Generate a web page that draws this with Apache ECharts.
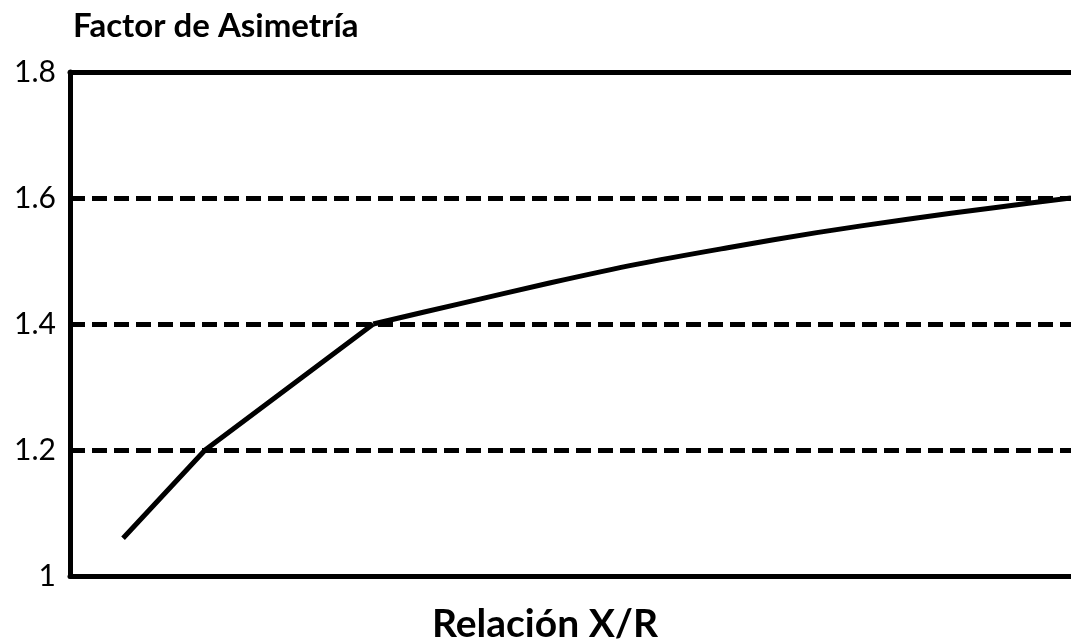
<!DOCTYPE html>
<html>
<head>
<meta charset="utf-8">
<script src="https://cdn.jsdelivr.net/npm/echarts@6/dist/echarts.min.js"></script>
<style>html,body{margin:0;padding:0;background:#fff}#c{width:1071px;height:642px}</style>
</head>
<body>
<div id="c"></div>
<script>
// Data (X/R in arbitrary relative units 0-100, no tick labels on the x axis)
var yTitle = "Factor de Asimetría";
var xTitle = "Relación X/R";
var yTicks = [1, 1.2, 1.4, 1.6, 1.8];
// straight part of the curve
var steepX = [5.3, 13.5, 30.3];
var steepY = [1.06, 1.2, 1.4];
// curved part
var curveX = [30.3, 38.9, 47.9, 56.7, 65.7, 74.6, 83.5, 92.5, 100];
var curveY = [1.4, 1.432, 1.465, 1.495, 1.521, 1.545, 1.566, 1.585, 1.6];

function pairs(xs, ys){ return xs.map(function(x,i){ return [x, ys[i]]; }); }

var chart = echarts.init(document.getElementById('c'), null, {renderer:'canvas'});
var font = 'Lato, "Open Sans", sans-serif';
chart.setOption({
  animation:false,
  backgroundColor:'#fff',
  grid:{left:70, right:0, top:72, bottom:66, containLabel:false},
  title:{text:yTitle, left:68, top:5, textStyle:{fontFamily:font, fontWeight:'bold', fontSize:33, color:'#000'}},
  graphic:[{type:'text', x:545, y:624, style:{text:xTitle, x:0, y:0, textAlign:'center', textVerticalAlign:'middle', font:'bold 39px ' + font, fill:'#000'}}],
  xAxis:[
    {type:'value', min:0, max:100, position:'bottom',
     axisLine:{show:true, lineStyle:{color:'#000', width:5}},
     axisTick:{show:false}, axisLabel:{show:false}, splitLine:{show:false}},
    {type:'value', min:0, max:100, position:'top',
     axisLine:{show:true, onZero:false, lineStyle:{color:'#000', width:5}},
     axisTick:{show:false}, axisLabel:{show:false}, splitLine:{show:false}}
  ],
  yAxis:{type:'value', min:yTicks[0], max:yTicks[yTicks.length-1], interval:0.2,
    axisLine:{show:true, lineStyle:{color:'#000', width:5}},
    axisTick:{show:false},
    axisLabel:{color:'#000', fontFamily:font, fontSize:30, margin:14,
      formatter:function(v){ return String(Math.round(v*10)/10); }},
    splitLine:{show:true, lineStyle:{color:'#000', width:5, type:[15,7]}}
  },
  series:[
    {type:'line', data:pairs(steepX, steepY), showSymbol:false, symbol:'none',
     lineStyle:{color:'#000', width:5}, z:5},
    {type:'line', data:pairs(curveX, curveY), showSymbol:false, symbol:'none', smooth:0.3,
     lineStyle:{color:'#000', width:5}, z:5}
  ]
});
</script>
</body>
</html>
